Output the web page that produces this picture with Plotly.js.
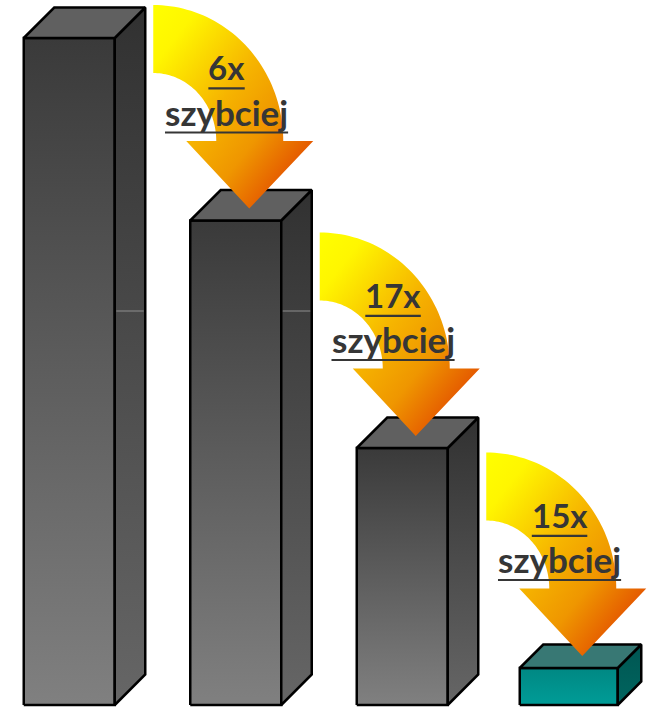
<!DOCTYPE html>
<html>
<head>
<meta charset="utf-8">
<script src="https://cdn.plot.ly/plotly-3.0.1.min.js"></script>
<style>
  html, body { margin: 0; padding: 0; background: #ffffff; }
  #chart { width: 654px; height: 709px; }
</style>
</head>
<body>
<div id="chart"></div>
<script>
// ---------------- data ----------------
const categories = ['Wersja 1', 'Wersja 2', 'Wersja 3', 'Wersja 4'];
const times = [667, 484.5, 257, 37];          // bar heights (relative units)
const speedups = ['6x', '17x', '15x'];         // speed-up between consecutive bars
const speedWord = 'szybciej';

// ---------------- geometry / style (pixels) ----------------
const W = 654, H = 709;
const PX_X = 166.5;       // pixels per category step
const X0PX = 69.25;       // pixel x of first category centre
const Y0PX = 705;         // pixel y of baseline (1 y unit = 1 px)
const HIGHLIGHT = 3;
const GRID_Y = 394;       // faint grid line visible on the side faces

const GRAY = {
  w: 91, dx: 30.5, dy: 30.5,
  front: [[0, '#808080'], [1, '#3a3a3a']],
  side:  [[0, '#666666'], [1, '#313131']],
  top: '#606060'
};
const TEAL = {
  w: 98, dx: 23.5, dy: 23.5,
  front: [[0, '#009c97'], [1, '#008883']],
  side:  [[0, '#00655f'], [1, '#005652']],
  top: '#387874'
};
// vertical fallback: 0 = bottom of arrow
const ARROW_SCALE = [[0, '#dc4400'], [0.15, '#e45600'], [0.35, '#ef9600'], [0.55, '#f6b400'], [0.85, '#fff600'], [1, '#ffff00']];
const TEXT_COLOR = '#363636';
const FONT = 'Lato';
const NUM_SIZE = 33, WORD_SIZE = 35;

const traces = [], shapes = [], annotations = [];

const measure = (() => {
  const c = document.createElement('canvas').getContext('2d');
  return (txt, size) => { c.font = `700 ${size}px "${FONT}"`; return c.measureText(txt).width; };
})();

// ---------------- 3D bars ----------------
categories.forEach((cat, i) => {
  const s = i === HIGHLIGHT ? TEAL : GRAY;
  const v = times[i];
  const hw = s.w / 2 / PX_X, dxu = s.dx / PX_X, dy = s.dy;
  const xl = i - hw, xr = i + hw;
  const common = {
    type: 'scatter', mode: 'lines', fill: 'toself', name: cat,
    line: { color: '#000000', width: 2.5 }, hoverinfo: 'skip', showlegend: false
  };
  traces.push(Object.assign({}, common, {
    x: [xl, xr, xr, xl, xl], y: [0, 0, v, v, 0],
    fillgradient: { type: 'vertical', colorscale: s.front }
  }));
  traces.push(Object.assign({}, common, {
    x: [xr, xr + dxu, xr + dxu, xr, xr], y: [0, dy, v + dy, v, 0],
    fillgradient: { type: 'vertical', colorscale: s.side }
  }));
  traces.push(Object.assign({}, common, {
    x: [xl, xr, xr + dxu, xl + dxu, xl], y: [v, v, v + dy, v + dy, v],
    fillcolor: s.top
  }));
  if (v > GRID_Y) {
    shapes.push({ type: 'line', xref: 'x', yref: 'y', x0: xr + 1.5 / PX_X, x1: xr + dxu - 1.5 / PX_X,
      y0: GRID_Y, y1: GRID_Y, line: { color: '#8e8e8e', width: 1 } });
  }
});

// ---------------- arrows + labels ----------------
speedups.forEach((label, k) => {
  const nxt = k + 1;
  const tipX = nxt + 13.5 / PX_X;
  const tipY = times[nxt] + 12;
  const sx = tipX - 96 / PX_X;
  const top = tipY + 203.5;
  const cy = top - 136;
  const xs = [], ys = [];
  const N = 48;
  for (let j = 0; j <= N; j++) {
    const t = Math.PI / 2 * (1 - j / N);
    xs.push(sx + 130 * Math.cos(t) / PX_X); ys.push(cy + 136 * Math.sin(t));
  }
  xs.push(sx + 160 / PX_X); ys.push(cy);
  xs.push(tipX); ys.push(tipY);
  xs.push(sx + 33 / PX_X); ys.push(cy);
  for (let j = 0; j <= N; j++) {
    const t = Math.PI / 2 * (j / N);
    xs.push(sx + 63 * Math.cos(t) / PX_X); ys.push(cy + 68 * Math.sin(t));
  }
  xs.push(sx); ys.push(top);
  traces.push({
    type: 'scatter', mode: 'none', fill: 'toself', uid: 'arrow' + k,
    x: xs, y: ys, line: { width: 0 },
    fillgradient: { type: 'vertical', colorscale: ARROW_SCALE },
    hoverinfo: 'skip', showlegend: false
  });

  const cx = sx + 73.3 / PX_X;
  annotations.push({
    x: cx, y: top - 62.2, xref: 'x', yref: 'y', showarrow: false,
    xanchor: 'center', yanchor: 'middle', text: label,
    font: { family: FONT, size: NUM_SIZE, color: TEXT_COLOR, weight: 700 }
  });
  annotations.push({
    x: cx, y: top - 106.5, xref: 'x', yref: 'y', showarrow: false,
    xanchor: 'center', yanchor: 'middle', text: speedWord,
    font: { family: FONT, size: WORD_SIZE, color: TEXT_COLOR, weight: 700 }
  });
  const w1 = measure(label, NUM_SIZE) / 2 / PX_X;
  const w2 = measure(speedWord, WORD_SIZE) / 2 / PX_X;
  shapes.push({ type: 'line', xref: 'x', yref: 'y', x0: cx - w1, x1: cx + w1,
    y0: top - 83.3, y1: top - 83.3, line: { color: TEXT_COLOR, width: 2.2 } });
  shapes.push({ type: 'line', xref: 'x', yref: 'y', x0: cx - w2, x1: cx + w2,
    y0: top - 127.5, y1: top - 127.5, line: { color: TEXT_COLOR, width: 2.2 } });
});

const layout = {
  width: W, height: H,
  margin: { l: 0, r: 0, t: 0, b: 0, pad: 0 },
  paper_bgcolor: '#ffffff', plot_bgcolor: '#ffffff',
  showlegend: false, hovermode: false,
  xaxis: { range: [-X0PX / PX_X, (W - X0PX) / PX_X], visible: false, fixedrange: true },
  yaxis: { range: [-(H - Y0PX), Y0PX], visible: false, fixedrange: true },
  shapes: shapes, annotations: annotations
};

Plotly.newPlot('chart', traces, layout, { staticPlot: true, displayModeBar: false }).then(gd => {
  // turn the arrows' gradient into a diagonal (top-left yellow -> bottom-right orange)
  document.querySelectorAll('linearGradient').forEach(g => {
    const stops = Array.from(g.querySelectorAll('stop'));
    const yellow = stops.find(st => {
      const c = (st.getAttribute('stop-color') || st.style.stopColor || '').replace(/\s/g, '').toLowerCase();
      return c === 'rgb(255,255,0)' || c === '#ffff00' || c === 'rgba(255,255,0,1)';
    });
    if (!yellow) return;
    const raw = String(yellow.getAttribute('offset'));
    let off = parseFloat(raw);
    if (raw.indexOf('%') >= 0) off /= 100;
    const rev = isNaN(off) ? true : off >= 0.5;
    g.setAttribute('gradientUnits', 'objectBoundingBox');
    g.removeAttribute('gradientTransform');
    g.setAttribute('x1', rev ? 1 : 0); g.setAttribute('y1', rev ? 1 : 0);
    g.setAttribute('x2', rev ? 0 : 1); g.setAttribute('y2', rev ? 0 : 1);
  });
});
</script>
</body>
</html>
